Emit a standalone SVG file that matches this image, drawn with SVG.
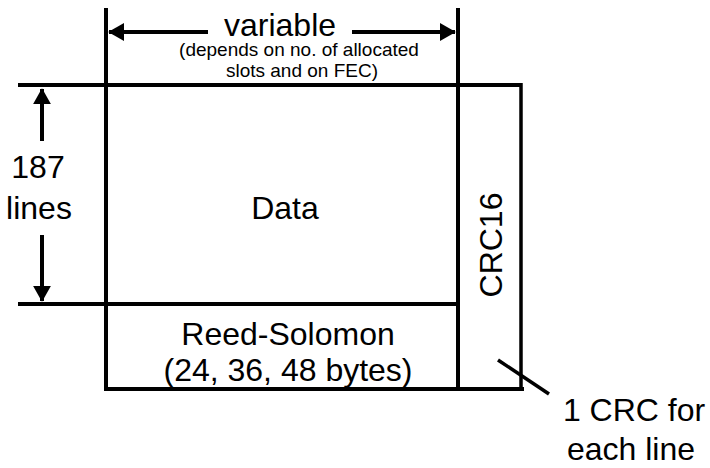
<svg xmlns="http://www.w3.org/2000/svg" width="710" height="468" viewBox="0 0 710 468">
<style>
.l{stroke:#000;stroke-width:4;fill:none}
.t{font-family:"Liberation Sans",Arial,sans-serif;fill:#000;text-anchor:middle}
.big{font-size:32px}
.sm{font-size:19px}
</style>
<defs>
<marker id="ah" markerWidth="4" markerHeight="4.5" refX="3.8" refY="2.25" orient="auto" markerUnits="strokeWidth">
<path d="M0,0 L4,2.25 L0,4.5 Z" fill="#000"/>
</marker>
</defs>
<g id="frame">
<line class="l" x1="106" y1="8" x2="106" y2="391"/>
<line class="l" x1="458" y1="8" x2="458" y2="391"/>
<line class="l" x1="18" y1="85" x2="522" y2="85"/>
<line class="l" x1="18" y1="304" x2="458" y2="304"/>
<line class="l" x1="104" y1="389" x2="524" y2="389"/>
<line class="l" x1="521" y1="83" x2="521" y2="391" style="stroke-width:3.5"/>
</g>
<g id="data"><text class="t big" x="285" y="219">Data</text></g>
<g id="rs">
<text class="t big" x="288" y="345">Reed-Solomon</text>
<text class="t big" x="288" y="381">(24, 36, 48 bytes)</text>
</g>
<g id="crc"><text class="t big" x="0" y="0" transform="translate(502,245) rotate(-90)">CRC16</text></g>
<g id="variable">
<text class="t big" x="280" y="36">variable</text>
<text class="t sm" x="299" y="56">(depends on no. of allocated</text>
<text class="t sm" x="302" y="77">slots and on FEC)</text>
</g>
<g id="lines187">
<text class="t big" x="38" y="178">187</text>
<text class="t big" x="39" y="219">lines</text>
</g>
<g id="note">
<text class="t big" x="634" y="421">1 CRC for</text>
<text class="t big" x="631" y="460">each line</text>
</g>
<g id="connectors">
<line class="l" x1="208" y1="32" x2="109" y2="32" marker-end="url(#ah)"/>
<line class="l" x1="352" y1="32" x2="455" y2="32" marker-end="url(#ah)"/>
<line class="l" x1="42" y1="141" x2="42" y2="89" marker-end="url(#ah)"/>
<line class="l" x1="42" y1="235" x2="42" y2="301" marker-end="url(#ah)"/>
<line class="l" x1="498" y1="360" x2="549" y2="394" style="stroke-width:3.5"/>
</g>
</svg>
